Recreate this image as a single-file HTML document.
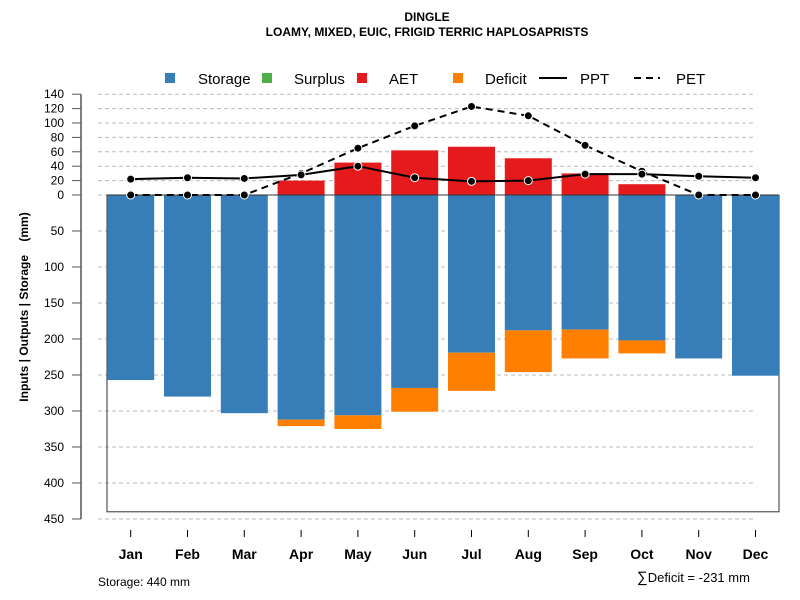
<!DOCTYPE html>
<html><head><meta charset="utf-8"><style>
body{margin:0;background:#fff;}
svg{display:block;font-family:"Liberation Sans",sans-serif;}
</style></head><body>
<svg id="chart" width="800" height="600" viewBox="0 0 800 600">
<text x="427" y="21" text-anchor="middle" font-size="12" font-weight="bold">DINGLE</text>
<text x="427" y="36" text-anchor="middle" font-size="12" font-weight="bold">LOAMY, MIXED, EUIC, FRIGID TERRIC HAPLOSAPRISTS</text>
<g id="grid"></g><g id="bars"></g><g id="lines"></g><g id="axes"></g>
<g>
<rect x="165" y="73" width="10" height="10" fill="#377eb8"/>
<text x="198" y="84" font-size="15">Storage</text>
<rect x="262" y="73" width="10" height="10" fill="#4daf4a"/>
<text x="294" y="84" font-size="15">Surplus</text>
<rect x="357" y="73" width="10" height="10" fill="#e41a1c"/>
<text x="389" y="84" font-size="15">AET</text>
<rect x="453" y="73" width="10" height="10" fill="#ff7f00"/>
<text x="485" y="84" font-size="15">Deficit</text>
<line x1="539" y1="78" x2="567" y2="78" stroke="#000" stroke-width="2"/>
<text x="580" y="84" font-size="15">PPT</text>
<line x1="634" y1="78" x2="660" y2="78" stroke="#000" stroke-width="2" stroke-dasharray="7,5"/>
<text x="676" y="84" font-size="15">PET</text>
</g>
<text x="28" y="307" transform="rotate(-90 28 307)" text-anchor="middle" font-size="12" font-weight="bold" style="white-space:pre">Inputs | Outputs | Storage    (mm)</text>
<text x="98" y="586" font-size="12">Storage: 440 mm</text>
<text x="637" y="582" font-size="13"><tspan font-size="15">∑</tspan>Deficit = -231 mm</text>
</svg>
<script>
const months=["Jan","Feb","Mar","Apr","May","Jun","Jul","Aug","Sep","Oct","Nov","Dec"];
const storage=[257,280,303,312,306,268,219,188,187,202,227,251];
const deficit=[0,0,0,9,19,33,53,58,40,18,0,0];
const aet=[0,0,0,20,45,62,67,51,30,15,0,0];
const ppt=[22,24,23,28,40,24,19,20,29,29,26,24];
const pet=[0,0,0,30,65,96,123,110,69,33,0,0];
const posTicks=[0,20,40,60,80,100,120,140];
const negTicks=[50,100,150,200,250,300,350,400,450];
const storageCap=440;
const NS="http://www.w3.org/2000/svg";
const y0=195,k=0.72;
const yPos=v=>y0-v*k, yNeg=v=>y0+v*k;
const xc=i=>130.7+i*56.8;
const bw=47;
function el(t,a,p){const e=document.createElementNS(NS,t);for(const n in a)e.setAttribute(n,a[n]);document.getElementById(p).appendChild(e);return e;}
posTicks.forEach(v=>{const g=el("line",{x1:98,x2:756,y1:yPos(v),y2:yPos(v),stroke:"#bbb","stroke-dasharray":"4,3"},"grid");

});
negTicks.forEach(v=>{const g=el("line",{x1:98,x2:756,y1:yNeg(v),y2:yNeg(v),stroke:"#bbb","stroke-dasharray":"4,3"},"grid");

});
const box=el("rect",{x:107,y:y0,width:672,height:storageCap*k,fill:"none",stroke:"#333","stroke-width":1},"bars");


months.forEach((m,i)=>{
 const x=xc(i)-bw/2;
 const s=el("rect",{x:x,y:y0,width:bw,height:storage[i]*k,fill:"#377eb8"},"bars");
 
 
 if(deficit[i]>0){const d=el("rect",{x:x,y:yNeg(storage[i]),width:bw,height:deficit[i]*k,fill:"#ff7f00"},"bars");
 
 }
 if(aet[i]>0){const a=el("rect",{x:x,y:yPos(aet[i]),width:bw,height:aet[i]*k,fill:"#e41a1c"},"bars");
 
 }
});
const zl=el("line",{x1:107,x2:779,y1:y0,y2:y0,stroke:"#333"},"bars");


function series(vals,name,dash){
 const p=el("polyline",{points:vals.map((v,i)=>xc(i)+","+yPos(v)).join(" "),fill:"none",stroke:"#000","stroke-width":2,"stroke-dasharray":dash},"lines");
 
 
 vals.forEach((v,i)=>{const c=el("circle",{cx:xc(i),cy:yPos(v),r:4,fill:"#000",stroke:"#fff","stroke-width":1},"lines");
 
 });
}
series(pet,"pet","7,5");
series(ppt,"ppt","none");
const ax=el("line",{x1:81,x2:81,y1:yPos(140),y2:yNeg(450),stroke:"#555","stroke-width":1.5},"axes");


function ytick(y,lab){
 const t=el("line",{x1:72,x2:81,y1:y,y2:y,stroke:"#555"},"axes");
 
 
 const tx=el("text",{x:64,y:y+4,"text-anchor":"end","font-size":12},"axes");
 tx.textContent=lab;
 
 
}
posTicks.forEach(v=>ytick(yPos(v),v));
negTicks.forEach(v=>ytick(yNeg(v),v));
months.forEach((m,i)=>{
 const t=el("line",{x1:xc(i),x2:xc(i),y1:530,y2:537,stroke:"#000"},"axes");
 
 
 const tx=el("text",{x:xc(i),y:559,"text-anchor":"middle","font-size":14,"font-weight":"bold"},"axes");
 tx.textContent=m;
 
 
});
</script>
</body></html>
